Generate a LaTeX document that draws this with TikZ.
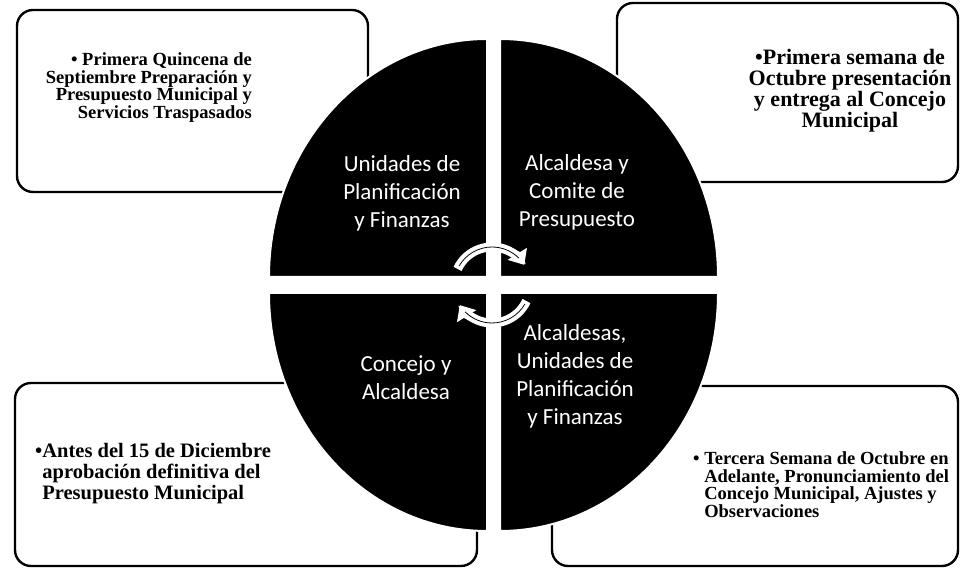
\documentclass[tikz,border=0pt]{standalone}
\usepackage{fontspec}
\setmainfont{Liberation Serif}
\newfontfamily\quadfont{Carlito}
\usetikzlibrary{arrows.meta}

\begin{document}
\begin{tikzpicture}[x=1pt,y=1pt,
    datebox/.style={draw=black, line width=2.4pt, rounded corners=16pt},
    quadrant/.style={fill=black, draw=white, line width=2pt},
    datetext/.style={inner sep=0pt},
    quadtext/.style={text=white, align=center, inner sep=0pt,
        font=\quadfont\fontsize{23}{28}\selectfont},
    cyclearrow/.style={draw=white, line width=9pt, -{Triangle[width=22pt,length=13pt]}},
    cycleline/.style={draw=black, line width=0.8pt}]
\useasboundingbox (0,0) rectangle (960,567);

\coordinate (TL) at (487,290);
\coordinate (TR) at (500,290);
\coordinate (BL) at (487,274);
\coordinate (BR) at (500,274);
\coordinate (O) at (492,282);

\draw[datebox] (17,375) rectangle (368,557);
\draw[datebox] (617,385) rectangle (958,564);
\draw[datebox] (15,1) rectangle (477,184);
\draw[datebox] (552,1) rectangle (958,181);

\draw[quadrant] (TL) -- ++(-218,0) arc[start angle=180, end angle=90, x radius=218, y radius=238] -- cycle;
\draw[quadrant] (TR) -- ++(0,238) arc[start angle=90, end angle=0, x radius=218, y radius=238] -- cycle;
\draw[quadrant] (BL) -- ++(-218,0) arc[start angle=180, end angle=270, x radius=218, y radius=238] -- cycle;
\draw[quadrant] (BR) -- ++(218,0) arc[start angle=0, end angle=-90, x radius=218, y radius=238] -- cycle;

\node[quadtext] (unidades) at (402,374) {Unidades de\\Planificación\\y Finanzas};
\node[quadtext] (alcaldesa) at (577,374.5) {Alcaldesa y\\Comite de\\Presupuesto};
\node[quadtext] (concejo) at (406,189.5) {Concejo y\\Alcaldesa};
\node[quadtext] (alcaldesas) at (575,191) {Alcaldesas,\\Unidades de\\Planificación\\y Finanzas};

\draw[cyclearrow] (O) ++(155:38) arc[start angle=155, end angle=32, radius=38];
\draw[cyclearrow] (O) ++(-25:38) arc[start angle=-25, end angle=-148, radius=38];
\draw[cycleline] (O) ++(150:38) arc[start angle=150, end angle=45, radius=38];
\draw[cycleline] (O) ++(-30:38) arc[start angle=-30, end angle=-135, radius=38];

\node[datetext, anchor=east, align=right, font=\bfseries\fontsize{18.5}{17.5}\selectfont] (septiembre) at (252,479.5)
    {\textbullet\ Primera Quincena de\\Septiembre Preparación y\\Presupuesto Municipal y\\Servicios Traspasados};
\node[datetext, align=center, font=\bfseries\fontsize{22}{21}\selectfont] (octubre) at (850,476.5)
    {\textbullet Primera semana de\\Octubre presentación\\y entrega al Concejo\\Municipal};
\node[datetext, anchor=west, align=left, font=\bfseries\fontsize{20.5}{21}\selectfont] (diciembre) at (35,93.5)
    {\textbullet Antes del 15 de Diciembre\\\phantom{\textbullet}aprobación definitiva del\\\phantom{\textbullet}Presupuesto Municipal};
\node[datetext, anchor=west, align=left, font=\bfseries\fontsize{18.5}{17.8}\selectfont] (tercera) at (693,82.25)
    {\textbullet\ Tercera Semana de Octubre en\\\phantom{\textbullet\ }Adelante, Pronunciamiento del\\\phantom{\textbullet\ }Concejo Municipal, Ajustes y\\\phantom{\textbullet\ }Observaciones};
\end{tikzpicture}
\end{document}
